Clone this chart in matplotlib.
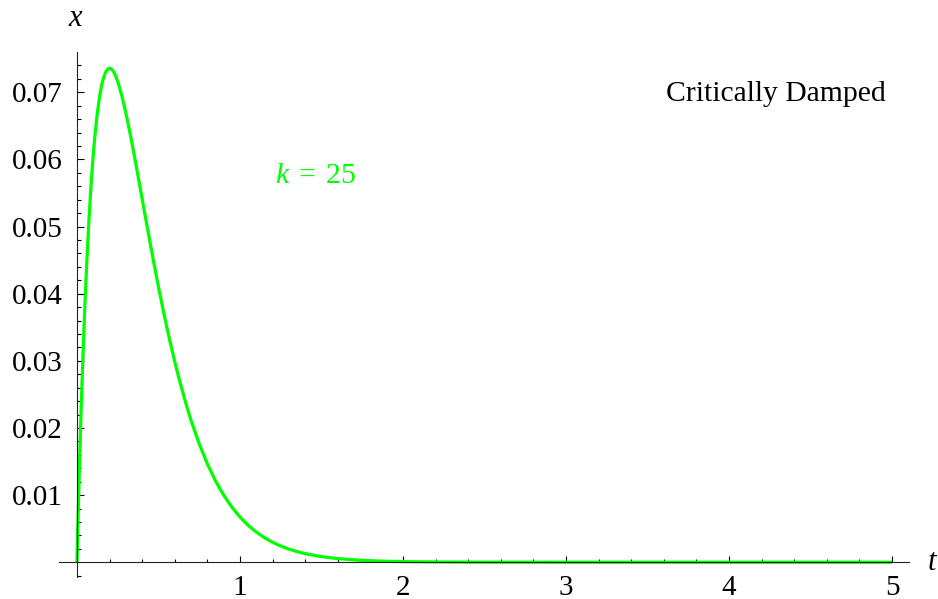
import matplotlib.pyplot as plt
from matplotlib.ticker import FixedLocator

# values
t_vals = [0.0, 0.0025, 0.005, 0.0075, 0.01, 0.015, 0.02, 0.025, 0.03, 0.04,
          0.05, 0.06, 0.075, 0.09, 0.1, 0.11, 0.125, 0.14, 0.15, 0.16, 0.175,
          0.19, 0.2, 0.21, 0.225, 0.24, 0.25, 0.275, 0.3, 0.325, 0.35, 0.375,
          0.4, 0.425, 0.45, 0.475, 0.5, 0.525, 0.55, 0.575, 0.6, 0.625, 0.65,
          0.675, 0.7, 0.75, 0.8, 0.85, 0.9, 0.95, 1.0, 1.05, 1.1, 1.15, 1.2,
          1.25, 1.3, 1.35, 1.4, 1.5, 1.6, 1.7, 1.8, 1.9, 2.0, 2.2, 2.5, 3.0,
          4.0, 5.0]
x_vals = [0.0, 0.00247, 0.00488, 0.00722, 0.00951, 0.01392, 0.01810, 0.02206,
          0.02582, 0.03275, 0.03894, 0.04445, 0.05155, 0.05739, 0.06065,
          0.06346, 0.06691, 0.06952, 0.07085, 0.07189, 0.07296, 0.07348,
          0.07358, 0.07349, 0.07309, 0.07229, 0.07163, 0.06953, 0.06694,
          0.06400, 0.06082, 0.05751, 0.05413, 0.05076, 0.04743, 0.04418,
          0.04104, 0.03803, 0.03515, 0.03244, 0.02987, 0.02746, 0.02524,
          0.02310, 0.02114, 0.01764, 0.01465, 0.01213, 0.01000, 0.00822,
          0.00674, 0.00551, 0.00450, 0.00366, 0.00298, 0.00241, 0.00196,
          0.00158, 0.00128, 0.00083, 0.00054, 0.00035, 0.00022, 0.00014,
          0.00009, 0.00004, 0.00001, 0.0, 0.0, 0.0]

x_major = [1, 2, 3, 4, 5]
x_minor = [0.2, 0.4, 0.6, 0.8, 1.2, 1.4, 1.6, 1.8, 2.2, 2.4, 2.6, 2.8,
           3.2, 3.4, 3.6, 3.8, 4.2, 4.4, 4.6, 4.8]
y_major = [0.01, 0.02, 0.03, 0.04, 0.05, 0.06, 0.07]
y_minor = [-0.002] + [round(0.002 * i, 3) for i in range(1, 38) if i % 5 != 0]


def main():
    plt.rcParams['font.family'] = ['Liberation Serif', 'DejaVu Serif']
    plt.rcParams['mathtext.fontset'] = 'custom'
    plt.rcParams['mathtext.it'] = 'Liberation Serif:italic'
    plt.rcParams['mathtext.rm'] = 'Liberation Serif'

    fig = plt.figure(figsize=(9.38, 5.99), dpi=100)
    ax = fig.add_axes([59 / 938, 22 / 599, (909.3 - 59) / 938, (577 - 52) / 599])

    ax.plot(t_vals, x_vals, color='#00ff00', lw=2.3, solid_joinstyle='round',
            solid_capstyle='butt', clip_on=False)

    ax.set_xlim(-0.11, 5.106)
    ax.set_ylim(-0.0022, 0.076)

    for side in ['top', 'right']:
        ax.spines[side].set_visible(False)
    for side in ['left', 'bottom']:
        ax.spines[side].set_position(('data', 0))
        ax.spines[side].set_linewidth(0.8)
        ax.spines[side].set_color('#222222')

    ax.xaxis.set_major_locator(FixedLocator(x_major))
    ax.xaxis.set_minor_locator(FixedLocator(x_minor))
    ax.yaxis.set_major_locator(FixedLocator(y_major))
    ax.yaxis.set_minor_locator(FixedLocator(y_minor))
    ax.set_xticklabels([str(v) for v in x_major])
    ax.set_yticklabels([f"{v:.2f}" for v in y_major])

    ax.tick_params(axis='x', which='major', direction='in', length=4, width=0.8, pad=9, labelsize=21)
    ax.tick_params(axis='x', which='minor', direction='in', length=2.5, width=0.8)
    ax.tick_params(axis='y', which='major', direction='in', length=5, width=0.8, pad=10, labelsize=21)
    ax.tick_params(axis='y', which='minor', direction='in', length=3, width=0.8)

    ax.text(76 / 938, 1 - 18 / 599, "$x$", transform=fig.transFigure,
            ha='center', va='center', fontsize=22)
    ax.text(933 / 938, 1 - 562 / 599, "$t$", transform=fig.transFigure,
            ha='center', va='center', fontsize=22)
    ax.text(776 / 938, 1 - 94 / 599, "Critically Damped", transform=fig.transFigure,
            ha='center', va='center', fontsize=21.3)
    ax.text(316 / 938, 1 - 176 / 599, "$k\\;=\\;25$", transform=fig.transFigure,
            ha='center', va='center', fontsize=21.5, color='#00ff00')

    fig.savefig("out.png", dpi=100)


if __name__ == '__main__':
    main()
